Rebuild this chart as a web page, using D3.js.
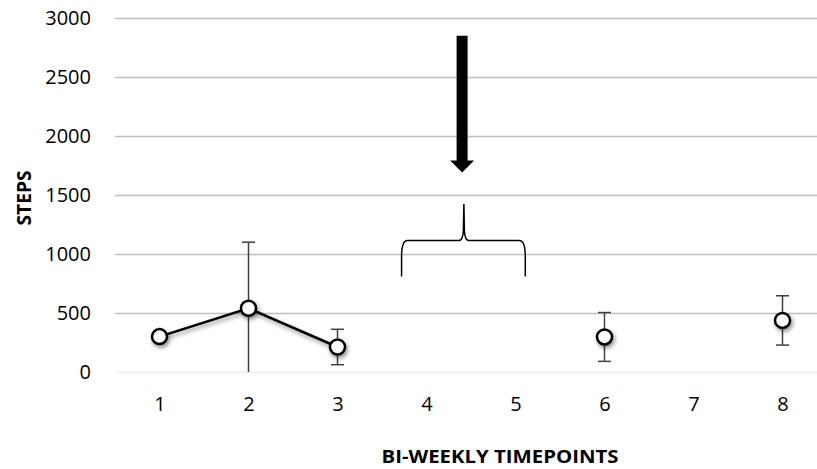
<!DOCTYPE html>
<html>
<head>
  <title>Steps</title>
  <script src="https://cdn.jsdelivr.net/npm/d3@7"></script>
  <style>
    body { margin: 0; background: #fff; }
    text { font-family: "Open Sans", "Liberation Sans", sans-serif; fill: #000; }
  </style>
</head>
<body>
  <svg width="817" height="469" id="mainsvg"></svg>
  <script>
    // chart values
    const timepoints = [1, 2, 3, 4, 5, 6, 7, 8];
    const steps = [300, 540, 212, null, null, 297, null, 437];
    const stepsErr = [0, 560, 150, null, null, 207, null, 209];
    const yTicks = [0, 500, 1000, 1500, 2000, 2500, 3000];
    // annotations (in data units)
    const arrow = { x: 4.4, top: 2850, tip: 1690 };
    const brace = { left: 3.72, right: 5.11, mid: 4.42, peak: 1424, bar: 1115, bottom: 810 };

    const svg = d3.select('svg');
    const margin = { top: 18, left: 115, bottom: 97 };
    const bw = 89;

    const x = d3.scaleLinear()
      .domain([0.5, 8.5])
      .range([margin.left, margin.left + bw * 8]);
    const y = d3.scaleLinear()
      .domain([0, 3000])
      .range([372, 18]);

    const defs = svg.append('defs');
    const f = defs.append('filter').attr('id', 'shadow')
      .attr('x', '-50%').attr('y', '-50%').attr('width', '200%').attr('height', '200%');
    f.append('feDropShadow')
      .attr('dx', 1.5).attr('dy', 2.5).attr('stdDeviation', 2)
      .attr('flood-color', '#000').attr('flood-opacity', 0.45);

    // gridlines + y labels
    const yAxis = svg.append('g')
      .attr('transform', `translate(${margin.left},0)`)
      .call(d3.axisLeft(y).tickValues(yTicks).tickSize(-(817 - margin.left)).tickPadding(24).tickFormat(d3.format('d')));
    yAxis.select('.domain').remove();
    yAxis.selectAll('.tick line')
      .attr('stroke', d => d === 0 ? '#efefef' : '#bfbfbf')
      .attr('stroke-width', 1.3);
    yAxis.selectAll('.tick text')
      .attr('font-size', 20)
      .attr('fill', '#000');

    // x labels
    const xAxis = svg.append('g')
      .attr('transform', `translate(0,${y(0)})`)
      .call(d3.axisBottom(x).tickValues(timepoints).tickSize(0).tickPadding(25));
    xAxis.select('.domain').remove();
    xAxis.selectAll('.tick text')
      .attr('font-size', 20)
      .attr('fill', '#000');

    // axis titles
    svg.append('text')
      .attr('x', 500).attr('y', 463)
      .attr('text-anchor', 'middle')
      .attr('font-size', 18.5).attr('font-weight', 'bold')
      .attr('textLength', 237).attr('lengthAdjust', 'spacingAndGlyphs')
      .text('BI-WEEKLY TIMEPOINTS');
    svg.append('text')
      .attr('transform', 'translate(31,198) rotate(-90)')
      .attr('text-anchor', 'middle')
      .attr('font-size', 19).attr('font-weight', 'bold')
      .attr('textLength', 55).attr('lengthAdjust', 'spacingAndGlyphs')
      .text('STEPS');

    const data = timepoints.map((t, i) => ({ t, v: steps[i], e: stepsErr[i] }));
    const valid = data.filter(d => d.v != null);

    // error bars
    const eb = svg.append('g').attr('stroke', '#404040').attr('stroke-width', 1.5);
    valid.filter(d => d.e > 0).forEach(d => {
      const hi = y(d.v + d.e);
      const lo = y(Math.max(0, d.v - d.e));
      const cx = x(d.t);
      eb.append('line').attr('x1', cx).attr('x2', cx).attr('y1', hi).attr('y2', lo);
      eb.append('line').attr('x1', cx - 6.5).attr('x2', cx + 6.5).attr('y1', hi).attr('y2', hi);
      if (d.v - d.e > 0) eb.append('line').attr('x1', cx - 6.5).attr('x2', cx + 6.5).attr('y1', lo).attr('y2', lo);
    });

    // line
    const line = d3.line()
      .defined(d => d.v != null)
      .x(d => x(d.t))
      .y(d => y(d.v));
    svg.append('path')
      .datum(data)
      .attr('fill', 'none')
      .attr('stroke', '#000')
      .attr('stroke-width', 2.5)
      .attr('filter', 'url(#shadow)')
      .attr('d', line);

    // markers
    svg.append('g')
      .selectAll('circle')
      .data(valid)
      .join('circle')
      .attr('cx', d => x(d.t))
      .attr('cy', d => y(d.v))
      .attr('r', 7.5)
      .attr('fill', '#fff')
      .attr('stroke', '#000')
      .attr('stroke-width', 2.5)
      .attr('filter', 'url(#shadow)');

    // arrow
    const ax = x(arrow.x), at = y(arrow.top), tip = y(arrow.tip);
    const headH = 12, headW = 12, shaftW = 5.5;
    svg.append('path')
      .attr('fill', '#000')
      .attr('d', `M${ax - shaftW},${at} L${ax + shaftW},${at} L${ax + shaftW},${tip - headH}
        L${ax + headW},${tip - headH} L${ax},${tip} L${ax - headW},${tip - headH}
        L${ax - shaftW},${tip - headH} Z`);

    // curly brace
    const bl = x(brace.left), br = x(brace.right), bm = x(brace.mid);
    const bp = y(brace.peak), bb = y(brace.bar), bbot = y(brace.bottom);
    const r = 6;
    svg.append('path')
      .attr('fill', 'none')
      .attr('stroke', '#000')
      .attr('stroke-width', 1.5)
      .attr('d', `M${bl},${bbot} L${bl},${bb + r + 10} Q${bl},${bb} ${bl + r},${bb}
        L${bm - 5},${bb} Q${bm - 1},${bb} ${bm - 0.5},${bb - 10} L${bm},${bp}
        L${bm + 0.5},${bb - 10} Q${bm + 1},${bb} ${bm + 5},${bb}
        L${br - r},${bb} Q${br},${bb} ${br},${bb + r + 10} L${br},${bbot}`);
  </script>
</body>
</html>
